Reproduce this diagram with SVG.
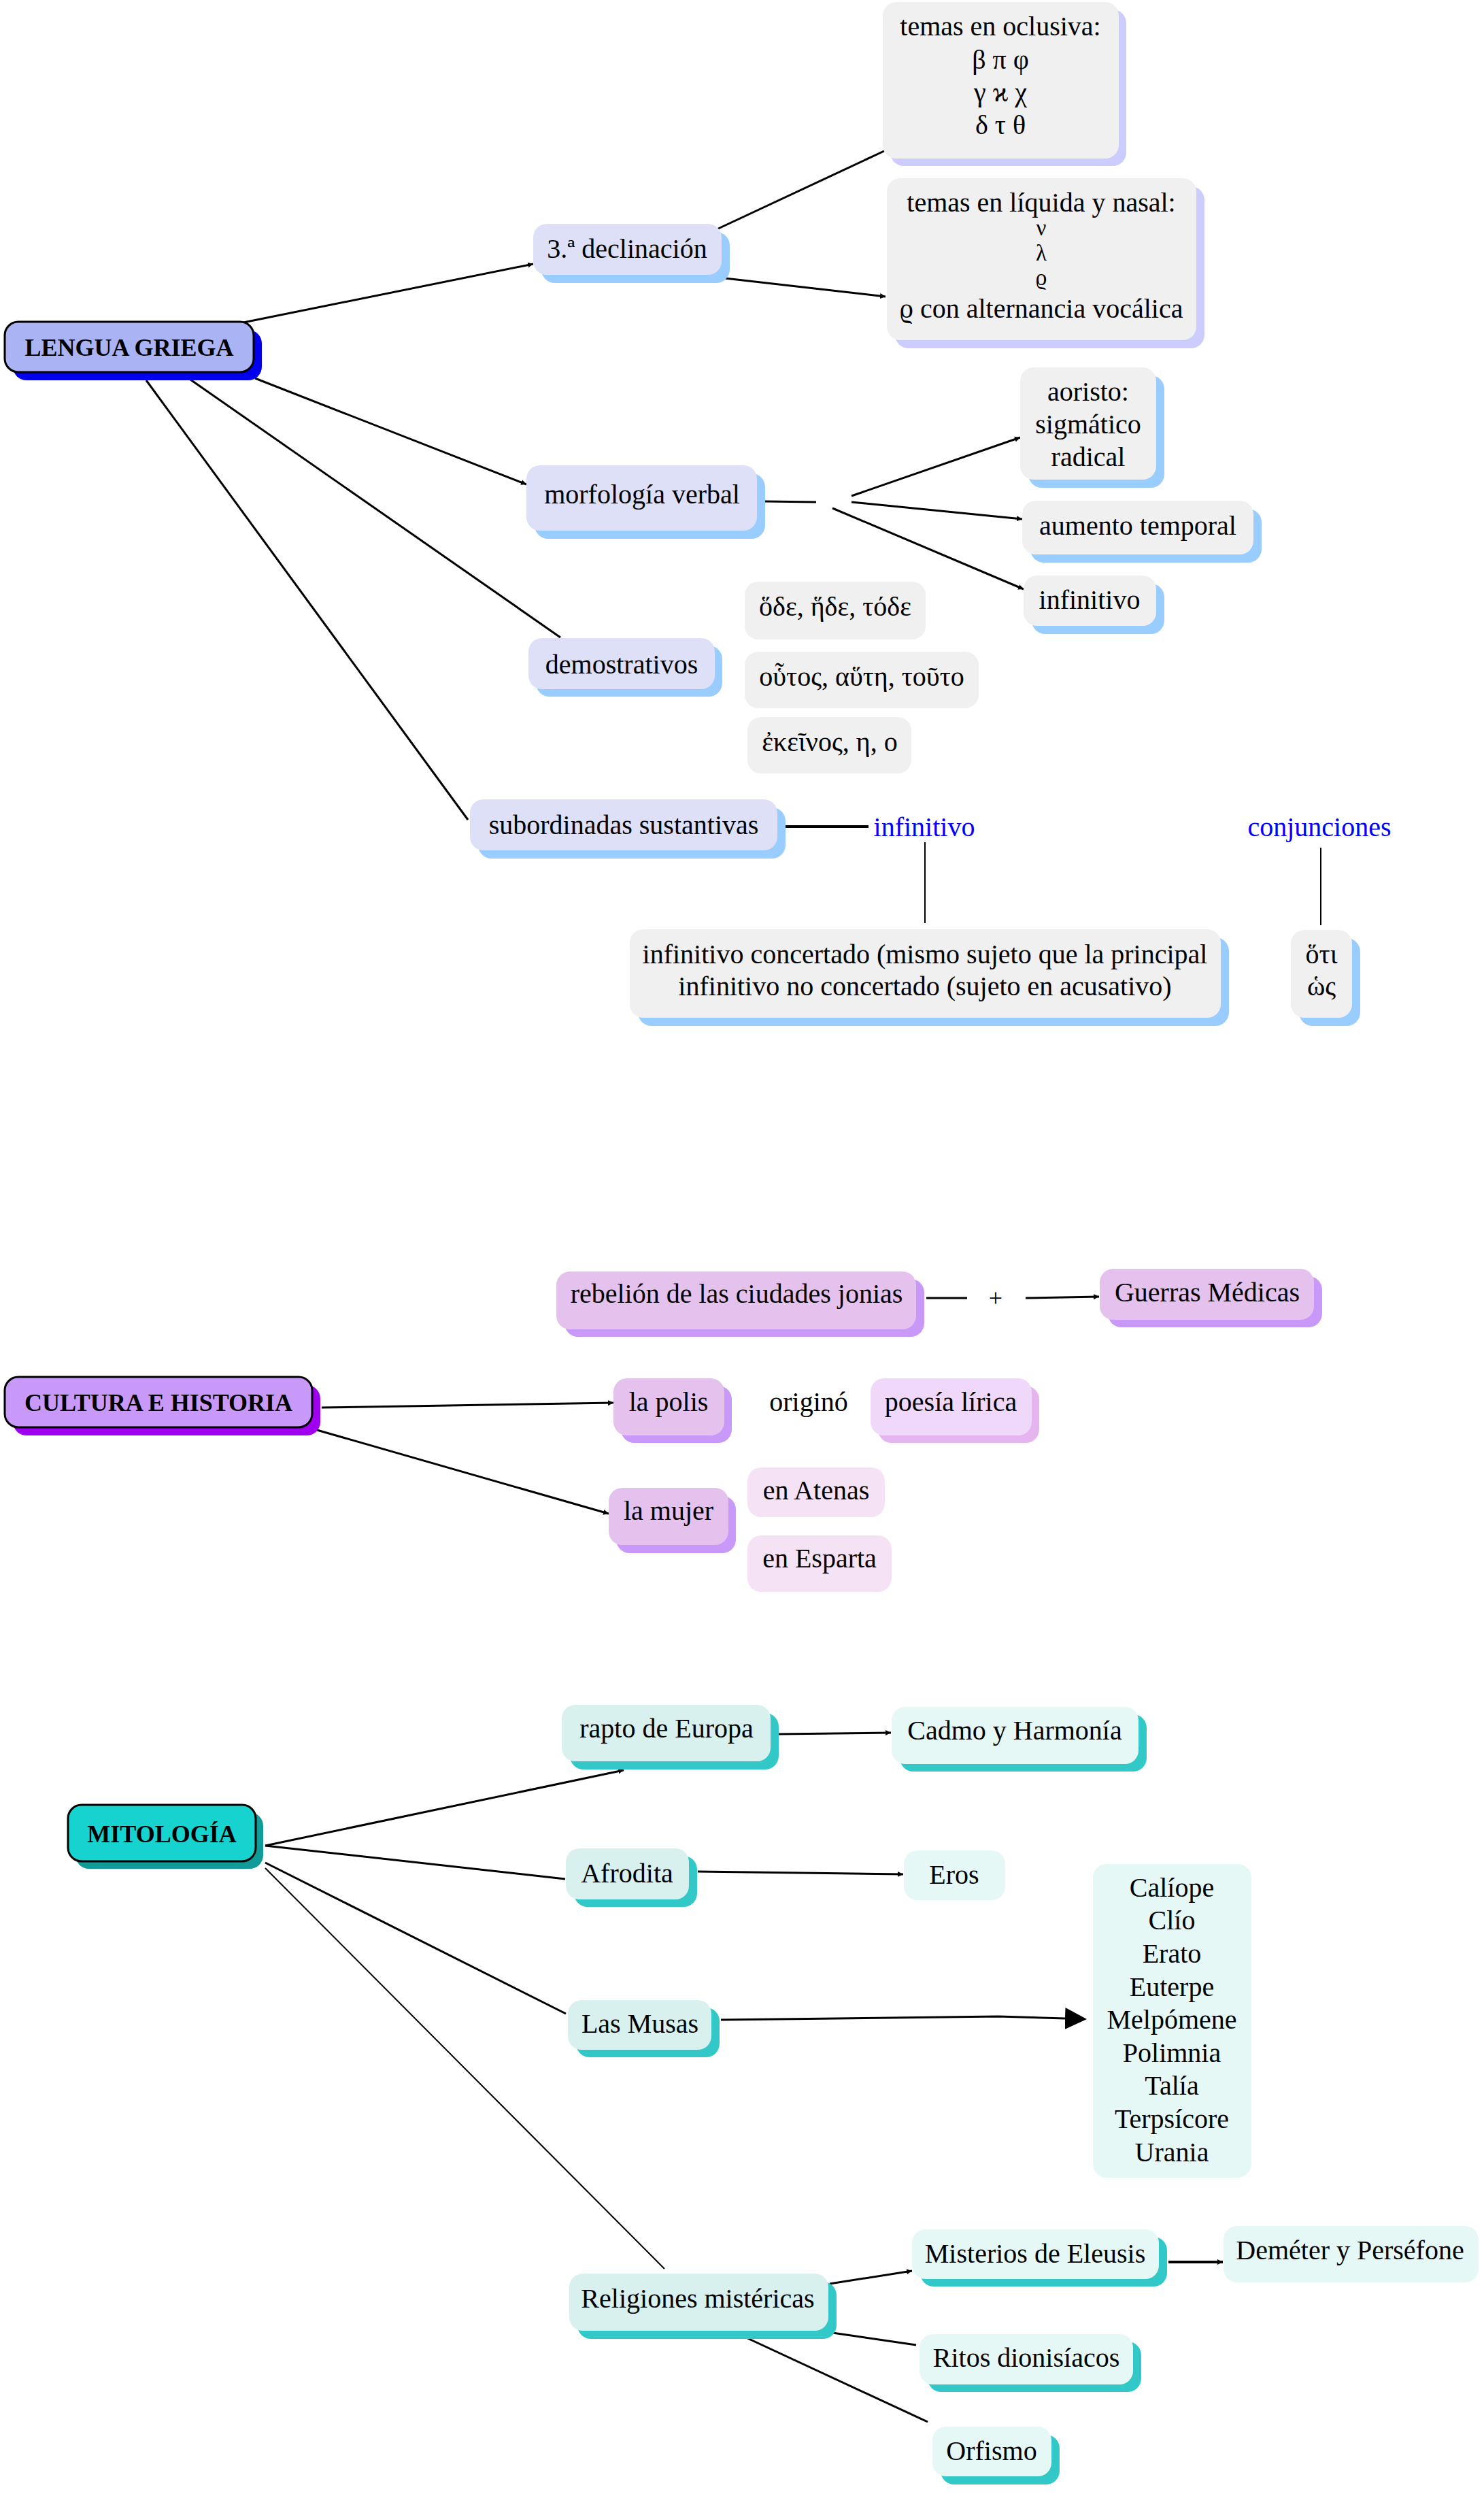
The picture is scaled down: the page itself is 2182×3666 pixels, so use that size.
<svg xmlns="http://www.w3.org/2000/svg" width="2182" height="3666" viewBox="0 0 2182 3666">
<defs>
<style>
text{font-family:"Liberation Serif","DejaVu Serif",serif;font-size:40px;fill:#000;text-anchor:middle}
.b{font-weight:bold;font-size:36px}
.blue{fill:#0000ff}
.sm{font-size:33px}
.c{stroke:#000;stroke-width:3;fill:none}
.th{stroke:#000;stroke-width:2;fill:none}
.root{stroke:#000;stroke-width:3}
.g0{fill:#f0f0f0}
.lb{fill:#dde0f6}
.sky{fill:#99ccff}
.lav{fill:#ccccff}
.pu{fill:#e5c1ee}
.pus{fill:#c899f9}
.pk{fill:#f0d8fa}
.pks{fill:#e5b5f0}
.pl{fill:#f5e3f5}
.tq{fill:#d8f1ef}
.tq2{fill:#e6f8f6}
.tqs{fill:#33c8c8}
</style>
<marker id="m" markerUnits="userSpaceOnUse" markerWidth="10" markerHeight="10" refX="8" refY="5" orient="auto"><path d="M0,1 L8,5 L0,9 z" fill="#000"/></marker>
<marker id="big" markerUnits="userSpaceOnUse" markerWidth="34" markerHeight="34" refX="0" refY="16" orient="auto"><path d="M0,0 L32,16 L0,32 z" fill="#000"/></marker>
</defs>
<rect width="2182" height="3666" fill="#fff"/>

<g id="connectors">
<line class="c" x1="358" y1="474" x2="784" y2="388" marker-end="url(#m)"/>
<line class="c" x1="375" y1="556" x2="774" y2="712" marker-end="url(#m)"/>
<line class="c" x1="280" y1="558" x2="824" y2="937"/>
<line class="c" x1="215" y1="559" x2="688" y2="1205"/>
<line class="c" x1="1054" y1="337" x2="1300" y2="222"/>
<line class="c" x1="1066" y1="409" x2="1302" y2="436" marker-end="url(#m)"/>
<line class="c" x1="1125" y1="737" x2="1200" y2="738"/>
<line class="c" x1="1252" y1="729" x2="1500" y2="643" marker-end="url(#m)"/>
<line class="c" x1="1252" y1="738" x2="1503" y2="763" marker-end="url(#m)"/>
<line class="c" x1="1224" y1="747" x2="1505" y2="866" marker-end="url(#m)"/>
<line class="c" x1="1155" y1="1215" x2="1277" y2="1215" style="stroke-width:4"/>
<line class="th" x1="1360" y1="1238" x2="1360" y2="1357"/>
<line class="th" x1="1942" y1="1246" x2="1942" y2="1360"/>

<line class="c" x1="1362" y1="1908" x2="1422" y2="1908"/>
<line class="c" x1="1508" y1="1908" x2="1616" y2="1906" marker-end="url(#m)"/>
<line class="c" x1="473" y1="2069" x2="902" y2="2062" marker-end="url(#m)"/>
<line class="c" x1="466" y1="2102" x2="895" y2="2225" marker-end="url(#m)"/>

<line class="c" x1="390" y1="2713" x2="917" y2="2602" marker-end="url(#m)"/>
<line class="c" x1="1145" y1="2549" x2="1310" y2="2547" marker-end="url(#m)"/>
<line class="c" x1="390" y1="2713" x2="831" y2="2762"/>
<line class="c" x1="1026" y1="2751" x2="1328" y2="2755" marker-end="url(#m)"/>
<line class="c" x1="390" y1="2738" x2="832" y2="2960"/>
<line class="th" x1="390" y1="2746" x2="977" y2="3335"/>
<polyline class="c" points="1060,2969 1468,2964 1566,2967" marker-end="url(#big)"/>
<line class="c" x1="1220" y1="3357" x2="1341" y2="3338" marker-end="url(#m)"/>
<line class="c" x1="1718" y1="3325" x2="1798" y2="3325" style="stroke-width:4" marker-end="url(#m)"/>
<line class="c" x1="1224" y1="3429" x2="1347" y2="3447"/>
<line class="c" x1="1099" y1="3437" x2="1364" y2="3560"/>
</g>

<g id="n-lengua"><rect x="19" y="485" width="366" height="74" rx="20" fill="#0000ee"/><rect class="root" x="7" y="473" width="366" height="74" rx="20" fill="#aab4f5"/><text class="b" x="190" y="523">LENGUA GRIEGA</text></g>
<g id="n-decl"><rect class="sky" x="796" y="341" width="277" height="75" rx="20"/><rect class="lb" x="784" y="329" width="277" height="75" rx="20"/><text x="922" y="379">3.ª declinación</text></g>
<g id="n-oclusiva"><rect class="lav" x="1309" y="14" width="347" height="230" rx="20"/><rect class="g0" x="1298" y="3" width="347" height="230" rx="20"/><text><tspan x="1471" y="52">temas en oclusiva:</tspan><tspan x="1471" y="101">β π φ</tspan><tspan x="1471" y="149">γ ϰ χ</tspan><tspan x="1471" y="197">δ τ θ</tspan></text></g>
<g id="n-liquida"><rect class="lav" x="1316" y="274" width="455" height="238" rx="20"/><rect class="g0" x="1304" y="262" width="455" height="238" rx="20"/><text x="1531" y="311">temas en líquida y nasal:</text><text class="sm" x="1531" y="346">ν</text><text class="sm" x="1531" y="383">λ</text><text class="sm" x="1531" y="419">ϱ</text><text x="1531" y="467">ϱ con alternancia vocálica</text></g>
<g id="n-morf"><rect class="sky" x="786" y="696" width="339" height="96" rx="20"/><rect class="lb" x="774" y="684" width="339" height="96" rx="20"/><text x="944" y="740">morfología verbal</text></g>
<g id="n-aoristo"><rect class="sky" x="1512" y="552" width="200" height="165" rx="20"/><rect class="g0" x="1500" y="540" width="200" height="165" rx="20"/><text><tspan x="1600" y="589">aoristo:</tspan><tspan x="1600" y="637">sigmático</tspan><tspan x="1600" y="685">radical</tspan></text></g>
<g id="n-aumento"><rect class="sky" x="1515" y="748" width="340" height="79" rx="20"/><rect class="g0" x="1503" y="736" width="340" height="79" rx="20"/><text x="1673" y="786">aumento temporal</text></g>
<g id="n-infverb"><rect class="sky" x="1517" y="858" width="195" height="74" rx="20"/><rect class="g0" x="1505" y="846" width="195" height="74" rx="20"/><text x="1602" y="895">infinitivo</text></g>
<g id="n-ode"><rect class="g0" x="1095" y="855" width="266" height="85" rx="20"/><text x="1228" y="905">ὅδε, ἥδε, τόδε</text></g>
<g id="n-outos"><rect class="g0" x="1095" y="958" width="344" height="83" rx="20"/><text x="1267" y="1008">οὗτος, αὕτη, τοῦτο</text></g>
<g id="n-ekeinos"><rect class="g0" x="1099" y="1054" width="241" height="83" rx="20"/><text x="1220" y="1104">ἐκεῖνος, η, ο</text></g>
<g id="n-demo"><rect class="sky" x="788" y="949" width="274" height="75" rx="20"/><rect class="lb" x="777" y="938" width="274" height="75" rx="20"/><text x="914" y="990">demostrativos</text></g>
<g id="n-subord"><rect class="sky" x="703" y="1187" width="452" height="75" rx="20"/><rect class="lb" x="691" y="1175" width="452" height="75" rx="20"/><text x="917" y="1226">subordinadas sustantivas</text></g>
<g id="n-inf-label"><text class="blue" x="1359" y="1229">infinitivo</text></g>
<g id="n-conj-label"><text class="blue" x="1940" y="1229">conjunciones</text></g>
<g id="n-infconc"><rect class="sky" x="938" y="1378" width="869" height="130" rx="20"/><rect class="g0" x="926" y="1366" width="869" height="130" rx="20"/><text><tspan x="1360" y="1416">infinitivo concertado (mismo sujeto que la principal</tspan><tspan x="1360" y="1463">infinitivo no concertado (sujeto en acusativo)</tspan></text></g>
<g id="n-oti"><rect class="sky" x="1910" y="1379" width="90" height="129" rx="20"/><rect class="g0" x="1898" y="1367" width="90" height="129" rx="20"/><text><tspan x="1943" y="1416">ὅτι</tspan><tspan x="1943" y="1463">ὡς</tspan></text></g>

<g id="n-cultura"><rect x="19" y="2036" width="452" height="74" rx="20" fill="#a000f0"/><rect class="root" x="7" y="2024" width="452" height="74" rx="20" fill="#c899f9"/><text class="b" x="233" y="2074">CULTURA E HISTORIA</text></g>
<g id="n-rebelion"><rect class="pus" x="830" y="1880" width="529" height="85" rx="20"/><rect class="pu" x="818" y="1869" width="529" height="85" rx="20"/><text x="1083" y="1915">rebelión de las ciudades jonias</text></g>
<g id="n-plus"><text x="1464" y="1920" style="font-size:36px">+</text></g>
<g id="n-guerras"><rect class="pus" x="1629" y="1876" width="315" height="75" rx="20"/><rect class="pu" x="1617" y="1865" width="315" height="75" rx="20"/><text x="1775" y="1913">Guerras Médicas</text></g>
<g id="n-polis"><rect class="pus" x="913" y="2037" width="163" height="84" rx="20"/><rect class="pu" x="902" y="2026" width="163" height="84" rx="20"/><text x="983" y="2074">la polis</text></g>
<g id="n-origino"><text x="1189" y="2074">originó</text></g>
<g id="n-poesia"><rect class="pks" x="1291" y="2037" width="237" height="84" rx="20"/><rect class="pk" x="1280" y="2026" width="237" height="84" rx="20"/><text x="1398" y="2074">poesía lírica</text></g>
<g id="n-mujer"><rect class="pus" x="906" y="2199" width="176" height="84" rx="20"/><rect class="pu" x="895" y="2187" width="176" height="84" rx="20"/><text x="983" y="2234">la mujer</text></g>
<g id="n-atenas"><rect class="pl" x="1099" y="2157" width="202" height="73" rx="20"/><text x="1200" y="2204">en Atenas</text></g>
<g id="n-esparta"><rect class="pl" x="1099" y="2257" width="212" height="83" rx="20"/><text x="1205" y="2304">en Esparta</text></g>

<g id="n-mito"><rect x="111" y="2664" width="276" height="83" rx="20" fill="#109a98"/><rect class="root" x="100" y="2653" width="276" height="83" rx="20" fill="#17d3cf"/><text class="b" x="238" y="2708">MITOLOGÍA</text></g>
<g id="n-rapto"><rect class="tqs" x="838" y="2518" width="307" height="83" rx="20"/><rect class="tq" x="826" y="2506" width="307" height="83" rx="20"/><text x="980" y="2554">rapto de Europa</text></g>
<g id="n-cadmo"><rect class="tqs" x="1323" y="2520" width="363" height="84" rx="20"/><rect class="tq2" x="1311" y="2509" width="363" height="84" rx="20"/><text x="1492" y="2557">Cadmo y Harmonía</text></g>
<g id="n-afrodita"><rect class="tqs" x="844" y="2728" width="181" height="75" rx="20"/><rect class="tq" x="832" y="2717" width="181" height="75" rx="20"/><text x="922" y="2767">Afrodita</text></g>
<g id="n-eros"><rect class="tq2" x="1329" y="2720" width="149" height="73" rx="20"/><text x="1403" y="2769">Eros</text></g>
<g id="n-musas"><rect class="tqs" x="847" y="2951" width="211" height="73" rx="20"/><rect class="tq" x="835" y="2940" width="211" height="73" rx="20"/><text x="941" y="2988">Las Musas</text></g>
<g id="n-musaslist"><rect class="tq2" x="1607" y="2740" width="233" height="461" rx="20"/><text><tspan x="1723" y="2788">Calíope</tspan><tspan x="1723" y="2836">Clío</tspan><tspan x="1723" y="2885">Erato</tspan><tspan x="1723" y="2934">Euterpe</tspan><tspan x="1723" y="2982">Melpómene</tspan><tspan x="1723" y="3031">Polimnia</tspan><tspan x="1723" y="3079">Talía</tspan><tspan x="1723" y="3128">Terpsícore</tspan><tspan x="1723" y="3177">Urania</tspan></text></g>
<g id="n-religiones"><rect class="tqs" x="849" y="3354" width="381" height="84" rx="20"/><rect class="tq" x="837" y="3342" width="381" height="84" rx="20"/><text x="1026" y="3392">Religiones mistéricas</text></g>
<g id="n-misterios"><rect class="tqs" x="1353" y="3288" width="363" height="73" rx="20"/><rect class="tq2" x="1341" y="3277" width="363" height="73" rx="20"/><text x="1522" y="3326">Misterios de Eleusis</text></g>
<g id="n-demeter"><rect class="tq2" x="1799" y="3272" width="375" height="83" rx="20"/><text x="1985" y="3321">Deméter y Perséfone</text></g>
<g id="n-ritos"><rect class="tqs" x="1364" y="3442" width="314" height="74" rx="20"/><rect class="tq2" x="1352" y="3431" width="314" height="74" rx="20"/><text x="1509" y="3479">Ritos dionisíacos</text></g>
<g id="n-orfismo"><rect class="tqs" x="1383" y="3579" width="175" height="73" rx="20"/><rect class="tq2" x="1371" y="3567" width="175" height="73" rx="20"/><text x="1458" y="3616">Orfismo</text></g>
</svg>
